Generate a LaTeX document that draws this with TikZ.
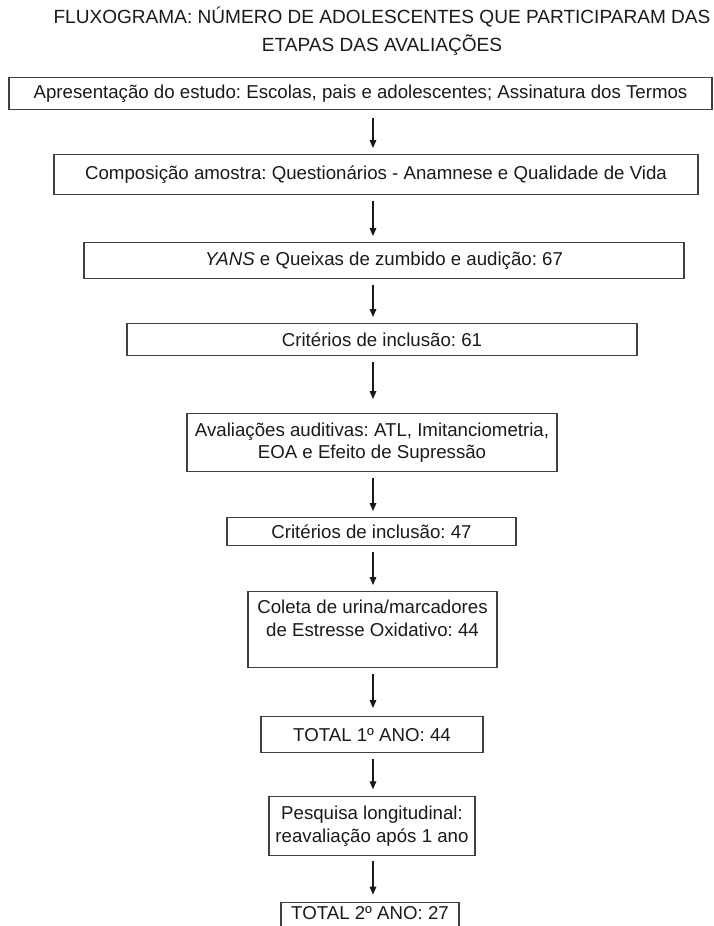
\documentclass[tikz,border=0pt]{standalone}
\usepackage{fontspec}
\setmainfont{Liberation Sans}
\usetikzlibrary{arrows.meta}

\definecolor{borda}{HTML}{404040}
\definecolor{texto}{HTML}{1A1A1A}

\tikzset{
  etapa/.style={draw=borda, line width=1.1pt, anchor=north, align=center,
    inner xsep=0pt, inner ysep=0pt, text=texto,
    font=\fontsize{14}{17}\selectfont},
  seta/.style={draw=black!90, line width=0.8pt, -{Triangle[length=6pt,width=5pt]},
    shorten <=4pt, shorten >=4.5pt}
}

\begin{document}
\frenchspacing
\begin{tikzpicture}[x=0.75pt,y=-0.75pt]
\useasboundingbox (0,0) rectangle (714,926);
\clip (0,0) rectangle (714,926);

\node (titulo) [align=center, text=texto, font=\fontsize{14.3}{21}\selectfont] at (382,31)
  {FLUXOGRAMA: NÚMERO DE ADOLESCENTES QUE PARTICIPARAM DAS\\ETAPAS DAS AVALIAÇÕES};

\coordinate (eixo) at (373,0);

\node (apres) [etapa, minimum width=527.25pt, minimum height=24pt] at (360.5,77)
  {Apresentação do estudo: Escolas, pais e adolescentes; Assinatura dos Termos};
\node (amostra) [etapa, minimum width=483pt, minimum height=30pt] at (376,154)
  {Composição amostra: Questionários - Anamnese e Qualidade de Vida};
\node (yans) [etapa, minimum width=450pt, minimum height=27pt] at (384,242)
  {\textit{YANS} e Queixas de zumbido e audição: 67};
\node (crit1) [etapa, minimum width=382.5pt, minimum height=24pt] at (382,323)
  {Critérios de inclusão: 61};
\node (aval) [etapa, minimum width=277.5pt, minimum height=43.5pt] at (372,413)
  {Avaliações auditivas: ATL, Imitanciometria,\\EOA e Efeito de Supressão};
\node (crit2) [etapa, minimum width=216.75pt, minimum height=21pt] at (371.5,517)
  {Critérios de inclusão: 47};
\node (urina) [etapa, minimum width=186.75pt, minimum height=57pt] at (372.5,591)
  {Coleta de urina/marcadores\\de Estresse Oxidativo: 44\\ };
\node (total1) [etapa, minimum width=166.5pt, minimum height=27pt] at (372,716)
  {TOTAL 1º ANO: 44};
\node (longit) [etapa, minimum width=154.5pt, minimum height=44pt] at (372,796)
  {Pesquisa longitudinal:\\reavaliação após 1 ano};
\node (total2) [etapa, minimum width=133.5pt, inner ysep=3pt, text depth=16pt] at (370,902)
  {TOTAL 2º ANO: 27};

\draw[seta, shorten <=6pt] (apres.south -| eixo) -- (amostra.north -| eixo);
\draw[seta] (amostra.south -| eixo) -- (yans.north -| eixo);
\draw[seta] (yans.south -| eixo) -- (crit1.north -| eixo);
\draw[seta, shorten >=10.5pt] (crit1.south -| eixo) -- (aval.north -| eixo);
\draw[seta] (aval.south -| eixo) -- (crit2.north -| eixo);
\draw[seta] (crit2.south -| eixo) -- (urina.north -| eixo);
\draw[seta, shorten >=6pt] (urina.south -| eixo) -- (total1.north -| eixo);
\draw[seta, shorten >=5pt] (total1.south -| eixo) -- (longit.north -| eixo);
\draw[seta, shorten >=5.5pt] (longit.south -| eixo) -- (total2.north -| eixo);

\end{tikzpicture}
\end{document}
